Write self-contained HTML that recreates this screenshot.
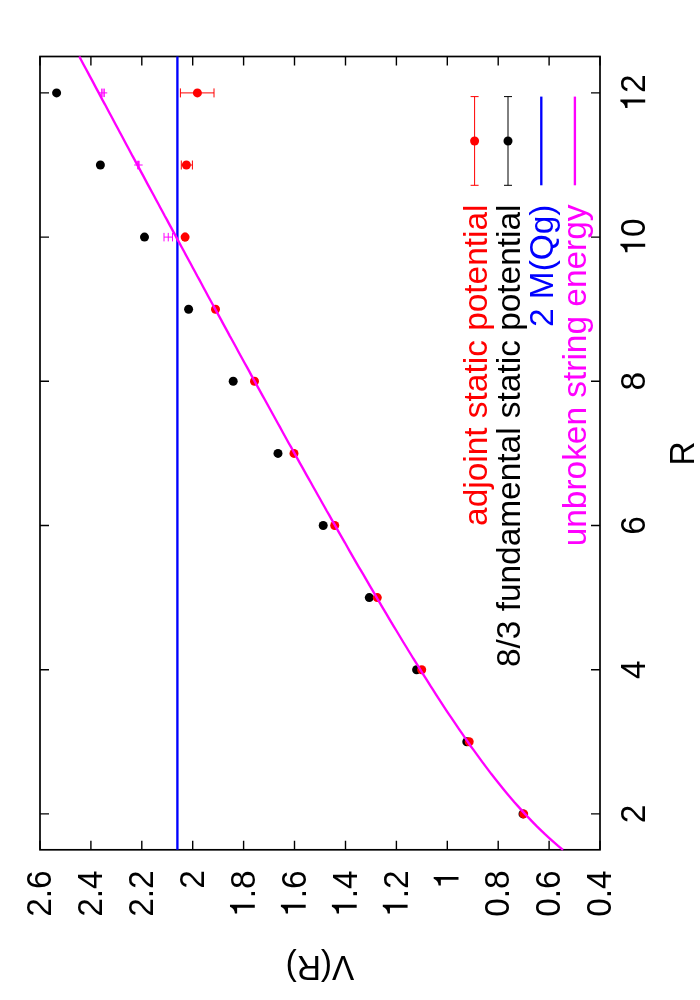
<!DOCTYPE html><html><head><meta charset="utf-8"><style>html,body{margin:0;padding:0;background:#fff}svg{display:block;will-change:transform}text{font-family:"Liberation Sans",sans-serif;font-size:35px}</style></head><body>
<svg width="700" height="1000" viewBox="0 0 700 1000">
<rect width="700" height="1000" fill="#fff"/>
<rect x="40.0" y="56.5" width="560.0" height="793.3" fill="none" stroke="#000" stroke-width="1.7"/>
<path d="M40.0 56.5v9.0M40.0 849.8v-9.0M90.9 56.5v9.0M90.9 849.8v-9.0M141.8 56.5v9.0M141.8 849.8v-9.0M192.7 56.5v9.0M192.7 849.8v-9.0M243.6 56.5v9.0M243.6 849.8v-9.0M294.5 56.5v9.0M294.5 849.8v-9.0M345.5 56.5v9.0M345.5 849.8v-9.0M396.4 56.5v9.0M396.4 849.8v-9.0M447.3 56.5v9.0M447.3 849.8v-9.0M498.2 56.5v9.0M498.2 849.8v-9.0M549.1 56.5v9.0M549.1 849.8v-9.0M600.0 56.5v9.0M600.0 849.8v-9.0M40.0 813.9h9.0M600.0 813.9h-9.0M40.0 669.7h9.0M600.0 669.7h-9.0M40.0 525.5h9.0M600.0 525.5h-9.0M40.0 381.3h9.0M600.0 381.3h-9.0M40.0 237.1h9.0M600.0 237.1h-9.0M40.0 92.9h9.0M600.0 92.9h-9.0" stroke="#000" stroke-width="1.4" fill="none"/>
<g transform="translate(51.2,870.3) rotate(-90) scale(0.955,1)"><text x="-48.65">2.6</text></g>
<g transform="translate(102.1,870.3) rotate(-90) scale(0.955,1)"><text x="-48.65">2.4</text></g>
<g transform="translate(153.0,870.3) rotate(-90) scale(0.955,1)"><text x="-48.65">2.2</text></g>
<g transform="translate(203.9,870.3) rotate(-90) scale(0.955,1)"><text x="-19.46">2</text></g>
<g transform="translate(254.8,870.3) rotate(-90) scale(0.955,1)"><path d="M359,0L271,0L271,505L101,505L101,568C190,578 265,610 301,709L359,709Z" transform="translate(-48.65,0) scale(0.0350,-0.0350)"/><text x="-29.19">.8</text></g>
<g transform="translate(305.7,870.3) rotate(-90) scale(0.955,1)"><path d="M359,0L271,0L271,505L101,505L101,568C190,578 265,610 301,709L359,709Z" transform="translate(-48.65,0) scale(0.0350,-0.0350)"/><text x="-29.19">.6</text></g>
<g transform="translate(356.7,870.3) rotate(-90) scale(0.955,1)"><path d="M359,0L271,0L271,505L101,505L101,568C190,578 265,610 301,709L359,709Z" transform="translate(-48.65,0) scale(0.0350,-0.0350)"/><text x="-29.19">.4</text></g>
<g transform="translate(407.6,870.3) rotate(-90) scale(0.955,1)"><path d="M359,0L271,0L271,505L101,505L101,568C190,578 265,610 301,709L359,709Z" transform="translate(-48.65,0) scale(0.0350,-0.0350)"/><text x="-29.19">.2</text></g>
<g transform="translate(458.5,870.3) rotate(-90) scale(0.955,1)"><path d="M359,0L271,0L271,505L101,505L101,568C190,578 265,610 301,709L359,709Z" transform="translate(-19.46,0) scale(0.0350,-0.0350)"/></g>
<g transform="translate(509.4,870.3) rotate(-90) scale(0.955,1)"><text x="-48.65">0.8</text></g>
<g transform="translate(560.3,870.3) rotate(-90) scale(0.955,1)"><text x="-48.65">0.6</text></g>
<g transform="translate(611.2,870.3) rotate(-90) scale(0.955,1)"><text x="-48.65">0.4</text></g>
<g transform="translate(645.2,813.9) rotate(-90) scale(0.955,1)"><text x="-9.73">2</text></g>
<g transform="translate(645.2,669.7) rotate(-90) scale(0.955,1)"><text x="-9.73">4</text></g>
<g transform="translate(645.2,525.5) rotate(-90) scale(0.955,1)"><text x="-9.73">6</text></g>
<g transform="translate(645.2,381.3) rotate(-90) scale(0.955,1)"><text x="-9.73">8</text></g>
<g transform="translate(645.2,237.1) rotate(-90) scale(0.955,1)"><path d="M359,0L271,0L271,505L101,505L101,568C190,578 265,610 301,709L359,709Z" transform="translate(-19.46,0) scale(0.0350,-0.0350)"/><text x="0.00">0</text></g>
<g transform="translate(645.2,92.9) rotate(-90) scale(0.955,1)"><path d="M359,0L271,0L271,505L101,505L101,568C190,578 265,610 301,709L359,709Z" transform="translate(-19.46,0) scale(0.0350,-0.0350)"/><text x="0.00">2</text></g>
<text transform="translate(694.1,453.4) rotate(-90) scale(0.955,1)" text-anchor="middle">R</text>
<text transform="translate(320,955.5) rotate(180) scale(0.955,1)" text-anchor="middle">V(R)</text>
<circle cx="56.6" cy="92.9" r="4.5" fill="#000"/>
<circle cx="100.4" cy="165.0" r="4.5" fill="#000"/>
<circle cx="144.5" cy="237.1" r="4.5" fill="#000"/>
<circle cx="188.6" cy="309.2" r="4.5" fill="#000"/>
<circle cx="233.2" cy="381.3" r="4.5" fill="#000"/>
<circle cx="278.0" cy="453.4" r="4.5" fill="#000"/>
<circle cx="323.2" cy="525.5" r="4.5" fill="#000"/>
<circle cx="369.3" cy="597.6" r="4.5" fill="#000"/>
<circle cx="416.6" cy="669.7" r="4.5" fill="#000"/>
<circle cx="466.8" cy="741.8" r="4.5" fill="#000"/>
<circle cx="523.0" cy="813.9" r="4.5" fill="#000"/>
<path d="M180.4 92.9H214.0M180.4 88.4v9M214.0 88.4v9" stroke="#f00" stroke-width="1" fill="none"/>
<circle cx="197.4" cy="92.9" r="4.5" fill="#f00"/>
<path d="M181.3 165.0H192.4M181.3 160.5v9M192.4 160.5v9" stroke="#f00" stroke-width="1" fill="none"/>
<circle cx="186.4" cy="165.0" r="4.5" fill="#f00"/>
<path d="M184.3 237.1H185.9M184.3 232.6v9M185.9 232.6v9" stroke="#f00" stroke-width="1" fill="none"/>
<circle cx="185.1" cy="237.1" r="4.5" fill="#f00"/>
<circle cx="215.5" cy="309.2" r="4.5" fill="#f00"/>
<circle cx="254.5" cy="381.3" r="4.5" fill="#f00"/>
<circle cx="294.0" cy="453.4" r="4.5" fill="#f00"/>
<circle cx="334.7" cy="525.5" r="4.5" fill="#f00"/>
<circle cx="377.3" cy="597.6" r="4.5" fill="#f00"/>
<circle cx="421.7" cy="669.7" r="4.5" fill="#f00"/>
<circle cx="469.2" cy="741.8" r="4.5" fill="#f00"/>
<circle cx="523.7" cy="813.9" r="4.5" fill="#f00"/>
<line x1="177.4" y1="56.5" x2="177.4" y2="849.8" stroke="#00f" stroke-width="2.35"/>
<path d="M98.75 92.9H107.25M101.70 88.6v8.5M104.30 88.6v8.5M103.00 88.6v8.5" stroke="#f0f" stroke-width="1" fill="none"/>
<path d="M134.15 165.0H142.65M137.70 160.8v8.5M139.10 160.8v8.5M138.40 160.8v8.5" stroke="#f0f" stroke-width="1" fill="none"/>
<path d="M164.00 237.1H172.50M164.00 232.9v8.5M172.50 232.9v8.5M168.25 232.9v8.5" stroke="#f0f" stroke-width="1" fill="none"/>
<polyline points="79.3,56.5 81.4,60.5 83.5,64.5 85.7,68.5 87.8,72.4 89.9,76.4 92.1,80.4 94.2,84.4 96.3,88.4 98.5,92.4 100.6,96.4 102.7,100.4 104.9,104.3 107.0,108.3 109.1,112.3 111.3,116.3 113.4,120.3 115.5,124.3 117.7,128.3 119.8,132.2 122.0,136.2 124.1,140.2 126.2,144.2 128.4,148.2 130.5,152.2 132.6,156.2 134.8,160.1 136.9,164.1 139.1,168.1 141.2,172.1 143.4,176.1 145.5,180.1 147.6,184.1 149.8,188.1 151.9,192.0 154.1,196.0 156.2,200.0 158.4,204.0 160.5,208.0 162.7,212.0 164.8,216.0 167.0,219.9 169.1,223.9 171.3,227.9 173.4,231.9 175.6,235.9 177.7,239.9 179.9,243.9 182.0,247.8 184.2,251.8 186.3,255.8 188.5,259.8 190.7,263.8 192.8,267.8 195.0,271.8 197.1,275.8 199.3,279.7 201.5,283.7 203.6,287.7 205.8,291.7 207.9,295.7 210.1,299.7 212.3,303.7 214.4,307.6 216.6,311.6 218.8,315.6 221.0,319.6 223.1,323.6 225.3,327.6 227.5,331.6 229.6,335.6 231.8,339.5 234.0,343.5 236.2,347.5 238.3,351.5 240.5,355.5 242.7,359.5 244.9,363.5 247.1,367.4 249.3,371.4 251.4,375.4 253.6,379.4 255.8,383.4 258.0,387.4 260.2,391.4 262.4,395.3 264.6,399.3 266.8,403.3 269.0,407.3 271.2,411.3 273.4,415.3 275.6,419.3 277.8,423.3 280.0,427.2 282.2,431.2 284.4,435.2 286.6,439.2 288.8,443.2 291.1,447.2 293.3,451.2 295.5,455.1 297.7,459.1 299.9,463.1 302.2,467.1 304.4,471.1 306.6,475.1 308.9,479.1 311.1,483.0 313.3,487.0 315.6,491.0 317.8,495.0 320.1,499.0 322.3,503.0 324.6,507.0 326.8,511.0 329.1,514.9 331.3,518.9 333.6,522.9 335.9,526.9 338.1,530.9 340.4,534.9 342.7,538.9 345.0,542.8 347.2,546.8 349.5,550.8 351.8,554.8 354.1,558.8 356.4,562.8 358.7,566.8 361.0,570.7 363.4,574.7 365.7,578.7 368.0,582.7 370.3,586.7 372.7,590.7 375.0,594.7 377.3,598.7 379.7,602.6 382.0,606.6 384.4,610.6 386.8,614.6 389.1,618.6 391.5,622.6 393.9,626.6 396.3,630.5 398.7,634.5 401.1,638.5 403.5,642.5 406.0,646.5 408.4,650.5 410.9,654.5 413.3,658.5 415.8,662.4 418.3,666.4 420.7,670.4 423.2,674.4 425.8,678.4 428.3,682.4 430.8,686.4 433.4,690.3 435.9,694.3 438.5,698.3 441.1,702.3 443.7,706.3 446.3,710.3 449.0,714.3 451.6,718.2 454.3,722.2 457.0,726.2 459.7,730.2 462.5,734.2 465.2,738.2 468.0,742.2 470.8,746.2 473.7,750.1 476.6,754.1 479.5,758.1 482.4,762.1 485.4,766.1 488.4,770.1 491.4,774.1 494.5,778.0 497.7,782.0 500.9,786.0 504.1,790.0 507.4,794.0 510.8,798.0 514.2,802.0 517.7,805.9 521.3,809.9 524.9,813.9 528.7,817.9 532.5,821.9 536.4,825.9 540.5,829.9 544.7,833.9 549.0,837.8 553.5,841.8 558.1,845.8 563.0,849.8" fill="none" stroke="#f0f" stroke-width="2.35"/>
<text transform="translate(486.6,204.5) rotate(-90) scale(0.955,0.965)" text-anchor="end" fill="#f00">adjoint static potential</text>
<text transform="translate(519.7,204.5) rotate(-90) scale(0.955,0.965)" text-anchor="end" fill="#000">8/3 fundamental static potential</text>
<text transform="translate(552.8,204.5) rotate(-90) scale(0.955,0.965)" text-anchor="end" fill="#00f">2 M(Qg)</text>
<text transform="translate(586.1,204.5) rotate(-90) scale(0.955,0.965)" text-anchor="end" fill="#f0f">unbroken string energy</text>
<path d="M474.6 96.6V185.3M470.6 96.6h8M470.6 185.3h8" stroke="#f00" stroke-width="1" fill="none"/>
<circle cx="474.6" cy="141" r="4.5" fill="#f00"/>
<path d="M508.0 96.6V185.3M504.0 96.6h8M504.0 185.3h8" stroke="#000" stroke-width="1" fill="none"/>
<circle cx="508.0" cy="141" r="4.5" fill="#000"/>
<line x1="541.3" y1="96.6" x2="541.3" y2="185.3" stroke="#00f" stroke-width="2.35"/>
<line x1="574.9" y1="96.6" x2="574.9" y2="185.3" stroke="#f0f" stroke-width="2.35"/>
</svg></body></html>
